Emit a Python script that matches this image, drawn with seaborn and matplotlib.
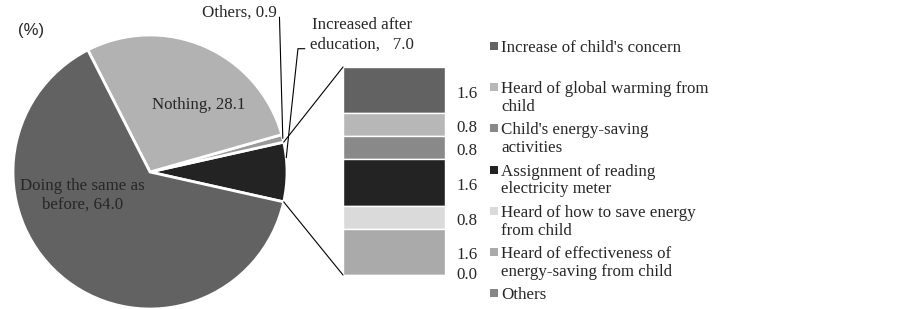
import matplotlib
matplotlib.use("Agg")
import matplotlib.pyplot as plt
import seaborn as sns
from matplotlib.patches import ConnectionPatch, Rectangle
import numpy as np

# pie data (counter-clockwise from the exploded slice)
pie_labels = ["Increased after\neducation,   7.0", "Others, 0.9", "Nothing, 28.1",
              "Doing the same as\nbefore, 64.0"]
pie_values = [7.0, 0.9, 28.1, 64.0]
pie_colors = ["#232323", "#9a9a9a", "#b2b2b2", "#626262"]

# breakdown of "Increased after education" (top to bottom)
bar_labels = ["Increase of child's concern",
              "Heard of global warming from\nchild",
              "Child's energy-saving\nactivities",
              "Assignment of reading\nelectricity meter",
              "Heard of how to save energy\nfrom child",
              "Heard of effectiveness of\nenergy-saving from child",
              "Others"]
bar_values = [1.6, 0.8, 0.8, 1.6, 0.8, 1.6, 0.0]
bar_colors = ["#626262", "#b7b7b7", "#898989", "#232323", "#dadada", "#aaaaaa", "#858585"]

sns.set_theme(style="white")
plt.rcParams["font.family"] = ["Liberation Serif", "DejaVu Serif"]
FS = 12.2

W, H = 903, 309
fig = plt.figure(figsize=(W / 100, H / 100), dpi=100)

# pie axes: square box 309x309 px, radius 137 px, centre at (150, 172) from top
R = 137.0
cx, cy = 150.0, H - 172.0
ax = fig.add_axes([-4 / W, 0, 309 / W, 1])
start = -pie_values[0] / 100 * 360 / 2
wedges, _ = ax.pie(pie_values, colors=pie_colors, startangle=start, counterclock=True,
                   wedgeprops=dict(edgecolor="white", linewidth=2))
ax.set_xlim((-4 - cx) / R, (305 - cx) / R)
ax.set_ylim((0 - cy) / R, (H - cy) / R)
ax.set_aspect("auto")
ax.axis("off")

ax.text(0.355, 0.49, pie_labels[2], ha="center", va="center", fontsize=FS)
ax.text(-0.49, -0.17, pie_labels[3], ha="center", va="center", fontsize=FS,
        linespacing=1.25)
ax.text(0.655, 1.16, pie_labels[1], ha="center", va="center", fontsize=FS)
ax.text(1.545, 1.0, pie_labels[0], ha="center", va="center", fontsize=FS,
        linespacing=1.25)

# leader lines
th_o = np.deg2rad((wedges[1].theta1 + wedges[1].theta2) / 2)
ax.plot([0.945, np.cos(th_o)], [1.13, np.sin(th_o)], color="black", lw=0.8, clip_on=False)
th_i = np.deg2rad(6)
ax.plot([1.13, 1.08, np.cos(th_i)], [0.90, 0.90, np.sin(th_i)], color="black", lw=0.8,
        clip_on=False)

fig.text(18 / W, 1 - 30 / H, "(%)", family="Liberation Sans", fontsize=12,
         va="center", ha="left")

# stacked bar
bx = fig.add_axes([343 / W, (H - 275) / H, 102 / W, 208 / H])
total = sum(bar_values)
bottom = total
for val, col, lab in zip(bar_values, bar_colors, bar_labels):
    bottom -= val
    bx.bar(0, val, bottom=bottom, width=1.0, color=col, edgecolor="white", linewidth=1)
    bx.annotate(f"{val:.1f}", xy=(0.5, bottom + val / 2), xytext=(8, -2.5 if val else 0),
                textcoords="offset points", ha="left", va="center", fontsize=FS,
                annotation_clip=False)
bx.set_xlim(-0.5, 0.5)
bx.set_ylim(0, total)
bx.axis("off")

# connection lines pie -> bar
for ang, yb in [(wedges[0].theta2, 1), (wedges[0].theta1, 0)]:
    t = np.deg2rad(ang)
    con = ConnectionPatch(xyA=(np.cos(t), np.sin(t)), coordsA=ax.transData,
                          xyB=(0, yb), coordsB=bx.transAxes, color="black", lw=0.8)
    fig.add_artist(con)

# legend
for i, (lab, col) in enumerate(zip(bar_labels, bar_colors)):
    yc = 46 + 41.2 * i
    fig.patches.append(Rectangle((490 / W, 1 - (yc + 4) / H), 8 / W, 8 / H,
                                 transform=fig.transFigure, facecolor=col,
                                 edgecolor="none"))
    fig.text(501 / W, 1 - (yc - 6) / H, lab, ha="left", va="top", fontsize=FS,
             linespacing=1.15)

fig.savefig("out.png", dpi=100)
